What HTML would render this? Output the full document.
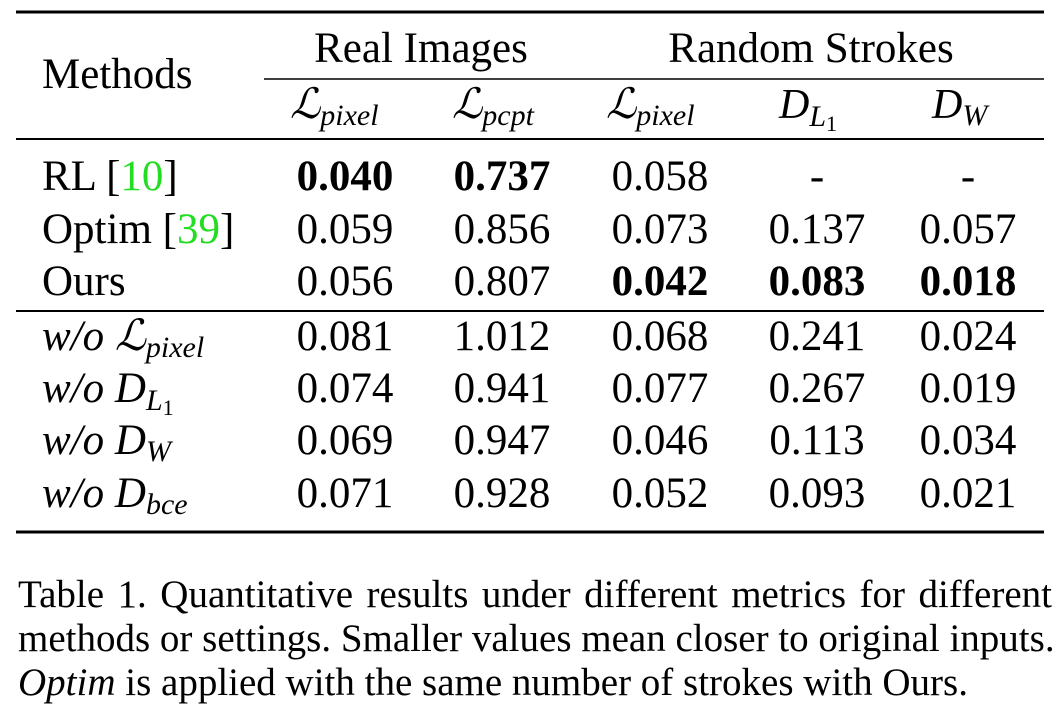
<!DOCTYPE html>
<html><head><meta charset="utf-8"><style>
html,body{margin:0;padding:0;background:#fff;}
body{position:relative;width:1064px;height:719px;overflow:hidden;}
svg{display:block;font-family:"Liberation Serif","DejaVu Serif",serif;}
.n{font-size:43px;text-anchor:middle;}
.b{font-weight:bold;}
.m{font-size:43px;}
.i{font-style:italic;}
.s{font-size:30px;font-style:italic;}
.one{font-size:22px;font-style:normal;}
.cap{position:absolute;left:18px;width:1034px;font-family:"Liberation Serif",serif;font-size:39px;line-height:44px;height:44px;white-space:nowrap;color:#000;}
.just{text-align:justify;text-align-last:justify;}
</style></head><body>
<svg width="1064" height="719" viewBox="0 0 1064 719">
<rect width="1064" height="719" fill="#fff"/>
<line x1="16" y1="12" x2="1044" y2="12" stroke="#000" stroke-width="3"/>
<line x1="264" y1="79" x2="1044" y2="79" stroke="#000" stroke-width="1.6"/>
<line x1="16" y1="139" x2="1044" y2="139" stroke="#000" stroke-width="2"/>
<line x1="16" y1="311" x2="1044" y2="311" stroke="#000" stroke-width="2"/>
<line x1="16" y1="532" x2="1044" y2="532" stroke="#000" stroke-width="3"/>

<text x="42" y="88" class="m">Methods</text>
<text x="421" y="62" class="n">Real Images</text>
<text x="811" y="62" class="n">Random Strokes</text>

<g>
<text x="290" y="118" font-size="42" font-style="italic">ℒ<tspan class="s" dy="7">pixel</tspan></text>
<text x="452" y="118" font-size="42" font-style="italic">ℒ<tspan class="s" dy="7">pcpt</tspan></text>
<text x="606" y="118" font-size="42" font-style="italic">ℒ<tspan class="s" dy="7">pixel</tspan></text>
<text x="779" y="118" font-size="42" font-style="italic">D<tspan class="s" dy="8">L</tspan><tspan class="one" dy="5">1</tspan></text>
<text x="932" y="118" font-size="42" font-style="italic">D<tspan class="s" dy="7">W</tspan></text>
</g>

<g>
<text x="42" y="190" class="m">RL [<tspan fill="#22dd22">10</tspan>]</text>
<text x="42" y="243" class="m">Optim [<tspan fill="#22dd22">39</tspan>]</text>
<text x="42" y="295" class="m">Ours</text>
<text x="42" y="350" class="m i">w/o ℒ<tspan class="s" dy="7">pixel</tspan></text>
<text x="42" y="402" class="m i">w/o D<tspan class="s" dy="8">L</tspan><tspan class="one" dy="5">1</tspan></text>
<text x="42" y="454" class="m i">w/o D<tspan class="s" dy="7">W</tspan></text>
<text x="42" y="507" class="m i">w/o D<tspan class="s" dy="7">bce</tspan></text>
</g>

<g id="cells"></g>
</svg>
<div class="cap just" style="top:573px">Table 1. Quantitative results under different metrics for different</div>
<div class="cap just" style="top:617px">methods or settings. Smaller values mean closer to original inputs.</div>
<div class="cap" style="top:661px"><i>Optim</i> is applied with the same number of strokes with Ours.</div>
<script>
const rowBaselines = [190, 243, 295, 350, 402, 454, 507];
const colCenters = [345, 502, 660, 817, 968];
const values = [
  ["0.040","0.737","0.058","-","-"],
  ["0.059","0.856","0.073","0.137","0.057"],
  ["0.056","0.807","0.042","0.083","0.018"],
  ["0.081","1.012","0.068","0.241","0.024"],
  ["0.074","0.941","0.077","0.267","0.019"],
  ["0.069","0.947","0.046","0.113","0.034"],
  ["0.071","0.928","0.052","0.093","0.021"]
];
const bold = [[0,0],[0,1],[2,2],[2,3],[2,4]];
const g = document.getElementById('cells');
values.forEach((row, r) => {
  row.forEach((v, c) => {
    const t = document.createElementNS('http://www.w3.org/2000/svg', 'text');
    t.setAttribute('x', colCenters[c]);
    t.setAttribute('y', rowBaselines[r]);
    const isB = bold.some(p => p[0] === r && p[1] === c);
    t.setAttribute('class', isB ? 'n b' : 'n');
    
    
    t.textContent = v;
    g.appendChild(t);
  });
});
</script>
</body></html>
